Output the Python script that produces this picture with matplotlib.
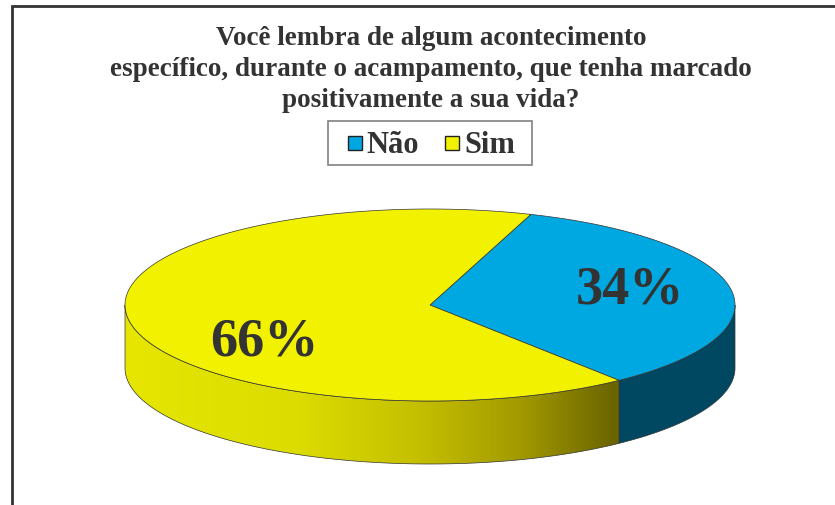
import numpy as np
import matplotlib
matplotlib.use("Agg")
import matplotlib.pyplot as plt
from matplotlib.patches import Polygon, Rectangle
from matplotlib.colors import LinearSegmentedColormap

# ---- data ----
title_lines = ["Você lembra de algum acontecimento",
               "específico, durante o acampamento, que tenha marcado",
               "positivamente a sua vida?"]
categories = ["Não", "Sim"]
values = [34, 66]
labels = ["34%", "66%"]

# ---- style / layout ----
top_colors = ["#00a8e2", "#f2f200"]
side_colors = ["#004862", None]  # None -> gradient
text_color = "#333333"
W, H = 835, 506
cx, cy, rx, ry, depth = 430, 306, 305, 96, 63
start_angle = -51.7  # degrees, counter-clockwise
label_pos = [(630, 290), (264, 342)]
legend_box = (328, 122, 204, 44)          # x, y, w, h (pixels)
legend_square_x = [348, 445]
legend_text_x = [366, 464]

fig = plt.figure(figsize=(W / 100, H / 100), dpi=100)
ax = fig.add_axes([0, 0, 1, 1])
ax.set_xlim(0, W)
ax.set_ylim(H, 0)
ax.axis("off")

serif = ["Liberation Serif", "DejaVu Serif"]


def pt(theta_deg, dy=0.0):
    t = np.radians(theta_deg)
    return cx + rx * np.cos(t), cy - ry * np.sin(t) + dy


# compute wedge angles from values
total = sum(values)
angles = []
a = start_angle
for v in values:
    span = 360.0 * v / total
    angles.append((a, a + span))
    a += span

# gradient colormap for yellow side
yel_cmap = LinearSegmentedColormap.from_list(
    "yside", [(0.0, "#e6e600"), (0.35, "#dcdc00"), (0.6, "#c4be00"),
              (0.8, "#a29a00"), (1.0, "#686200")])

# sides (front-facing part only: 180..360 deg)
for i, (a1, a2) in enumerate(angles):
    segs = []
    for off in (-360, 0, 360):
        lo, hi = max(a1 + off, 180), min(a2 + off, 360)
        if hi > lo:
            segs.append((lo, hi))
    for lo, hi in segs:
        th = np.linspace(lo, hi, 200)
        topx, topy = pt(th)
        botx, boty = pt(th[::-1], depth)
        verts = np.column_stack([np.concatenate([topx, botx]),
                                 np.concatenate([topy, boty])])
        if side_colors[i] is not None:
            poly = Polygon(verts, closed=True, facecolor=side_colors[i],
                           edgecolor="#333333", linewidth=0.5, zorder=2)
            ax.add_patch(poly)
        else:
            poly = Polygon(verts, closed=True, facecolor="none",
                           edgecolor="#333333", linewidth=0.5, zorder=3)
            ax.add_patch(poly)
            x0, x1 = verts[:, 0].min(), verts[:, 0].max()
            y0, y1 = verts[:, 1].min(), verts[:, 1].max()
            grad = np.linspace(0, 1, 256).reshape(1, -1)
            im = ax.imshow(grad, cmap=yel_cmap, aspect="auto",
                           extent=(x0, x1, y1, y0), zorder=2,
                           interpolation="bilinear")
            clip = Polygon(verts, closed=True, transform=ax.transData)
            im.set_clip_path(clip)

# tops
for i, (a1, a2) in enumerate(angles):
    th = np.linspace(a1, a2, 300)
    xs, ys = pt(th)
    verts = np.column_stack([np.concatenate([[cx], xs]),
                             np.concatenate([[cy], ys])])
    ax.add_patch(Polygon(verts, closed=True, facecolor=top_colors[i],
                         edgecolor="#333333", linewidth=0.5, zorder=4))

# labels
for lab, (lx, ly) in zip(labels, label_pos):
    ax.text(lx, ly, lab, ha="center", va="center", fontsize=39,
            fontweight="bold", family=serif, color=text_color, zorder=5)

# title
for k, line in enumerate(title_lines):
    ax.text(431, 38 + 31 * k, line, ha="center", va="center", fontsize=19.5,
            fontweight="bold", family=serif, color=text_color)

# legend (drawn by hand to match the box geometry)
bx, by, bw, bh = legend_box
ax.add_patch(Rectangle((bx, by), bw, bh, facecolor="white",
                       edgecolor="#808080", linewidth=1.2, zorder=6))
for cat, col, sx, tx in zip(categories, top_colors, legend_square_x,
                            legend_text_x):
    ax.add_patch(Rectangle((sx, by + 15), 14, 14, facecolor=col,
                           edgecolor="#222222", linewidth=1.0, zorder=7))
    ax.text(tx, by + bh / 2 + 1, cat, ha="left", va="center", fontsize=22,
            fontweight="bold", family=serif, color=text_color, zorder=7)

# outer frame (left and top visible)
ax.plot([12, 12, W + 5], [H + 5, 7, 7], color="#333333", linewidth=2,
        solid_joinstyle="miter", clip_on=False)

fig.savefig("out.png", dpi=100)
